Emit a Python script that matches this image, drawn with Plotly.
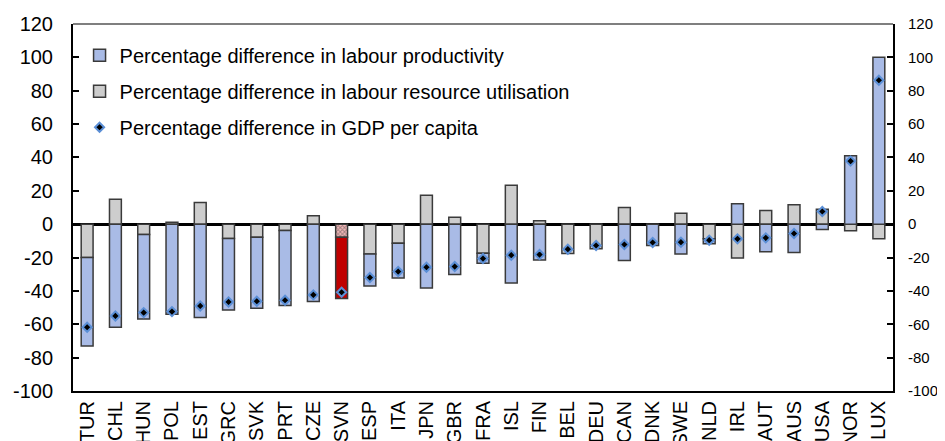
import plotly.graph_objects as go

countries = ["TUR", "CHL", "HUN", "POL", "EST", "GRC", "SVK", "PRT", "CZE", "SVN",
             "ESP", "ITA", "JPN", "GBR", "FRA", "ISL", "FIN", "BEL", "DEU", "CAN",
             "DNK", "SWE", "NLD", "IRL", "AUT", "AUS", "USA", "NOR", "LUX"]

# Percentage difference in labour resource utilisation
utilisation = [-20, 15, -6.2, 1.2, 13, -8.6, -7.8, -3.8, 5, -7.8,
               -17.8, -11.4, 17.4, 4.2, -17.4, 23.4, 2, -17.6, -14.8, 10,
               0, 6.6, -8.8, -20.2, 8.2, 11.6, 9, -4, -8.8]

# Percentage difference in labour productivity
productivity = [-53, -61.8, -50.6, -54, -56, -42.8, -42.6, -45, -46.4, -36.8,
                -19.2, -20.8, -38.2, -30.2, -6, -35.2, -21.4, 0, 0, -21.8,
                -12.8, -17.8, -3, 12.2, -16.6, -17, -3.2, 41, 100]

# Percentage difference in GDP per capita
gdp = [-61.8, -55, -53, -52.4, -49, -46.6, -46.2, -45.6, -42.4, -40.8,
       -32, -28.4, -25.8, -25.4, -20.6, -18.6, -18.2, -15, -12.8, -12.2,
       -11, -10.8, -9.6, -8.8, -8.2, -5.6, 7.6, 37.8, 86.3]

y_ticks = [-100, -80, -60, -40, -20, 0, 20, 40, 60, 80, 100, 120]
y_ticktext = [str(v) for v in y_ticks]

highlight = "SVN"

FONT = "Liberation Sans, Arial, sans-serif"
BLUE = "#A9BBE6"
GREY = "#CDCDCD"
RED = "#C00000"
EDGE = "#3A3A3A"

util_colors = ["#F4B8B8" if c == highlight else GREY for c in countries]
util_shapes = ["x" if c == highlight else "" for c in countries]
prod_colors = [RED if c == highlight else BLUE for c in countries]

fig = go.Figure()

fig.add_trace(go.Bar(
    x=countries, y=utilisation,
    name="Percentage difference in labour resource utilisation",
    marker=dict(color=util_colors, line=dict(color=EDGE, width=1.5),
                pattern=dict(shape=util_shapes, fgcolor="#D83030", size=3,
                             solidity=0.5, fillmode="overlay")),
    legendrank=2, legendgroup="b",
))
fig.add_trace(go.Bar(
    x=countries, y=productivity,
    name="Percentage difference in labour productivity",
    marker=dict(color=prod_colors, line=dict(color=EDGE, width=1.5)),
    legendrank=1, legendgroup="a",
))
fig.add_trace(go.Scatter(
    x=countries, y=gdp, mode="markers",
    name="Percentage difference in GDP per capita",
    marker=dict(symbol="diamond", size=7, color="black",
                line=dict(color="#5B8FD6", width=2)),
    legendrank=3, legendgroup="c",
))
# invisible trace for the right-hand axis
fig.add_trace(go.Scatter(
    x=countries, y=gdp, mode="markers", yaxis="y2",
    marker=dict(opacity=0), showlegend=False, hoverinfo="skip",
))

fig.update_layout(
    width=937, height=433,
    margin=dict(l=65, r=52, t=16, b=50, autoexpand=False),
    paper_bgcolor="white", plot_bgcolor="white",
    barmode="relative", bargap=0.58,
    font=dict(family=FONT, size=20, color="black"),
    showlegend=True,
    legend=dict(x=0.008, y=0.968, xanchor="left", yanchor="top",
                traceorder="grouped", tracegroupgap=7,
                bgcolor="rgba(0,0,0,0)", borderwidth=0,
                font=dict(family=FONT, size=20, color="black")),
    xaxis=dict(range=[-0.5, len(countries) - 0.5], showline=True,
               linecolor="black", linewidth=2, ticks="", tickangle=-90,
               showgrid=False, tickfont=dict(size=20), automargin=False),
    yaxis=dict(range=[-100, 120], tickmode="array", tickvals=y_ticks,
               ticktext=y_ticktext, showline=True, linecolor="black",
               linewidth=2, ticks="inside", ticklen=6, tickwidth=2,
               tickcolor="black", showgrid=False, zeroline=True,
               zerolinecolor="black", zerolinewidth=2.5, automargin=False,
               ticklabelstandoff=14, tickfont=dict(size=20)),
    yaxis2=dict(range=[-100, 120], tickmode="array", tickvals=y_ticks,
                ticktext=y_ticktext, overlaying="y", side="right",
                showline=True, linecolor="black", linewidth=2,
                ticks="inside", ticklen=6, tickwidth=2, tickcolor="black",
                showgrid=False, zeroline=False, ticklabelstandoff=10,
                automargin=False, tickfont=dict(size=15)),
    shapes=[dict(type="line", xref="paper", yref="paper", x0=0, x1=1,
                 y0=1, y1=1, line=dict(color="#555555", width=1.5))],
)

fig.write_html("out.html")
